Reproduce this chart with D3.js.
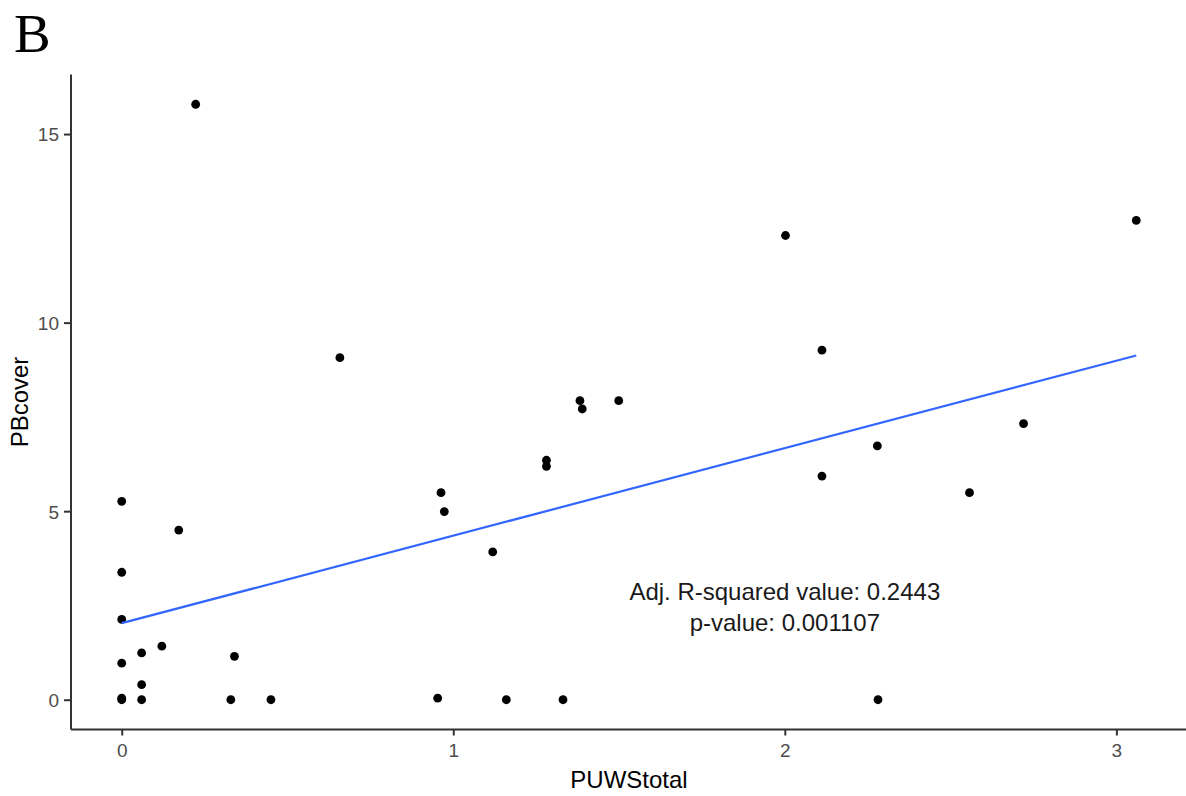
<!DOCTYPE html>
<html>

<head>
    <title>PBcover vs PUWStotal</title>
    <script src="https://d3js.org/d3.v7.min.js"></script>
    <style>
        body {
            margin: 0;
            background: white;
        }

        .tickLabel {
            font-family: Arial, "Liberation Sans", sans-serif;
            font-size: 19px;
            fill: #4d4d4d;
        }

        .axisTitle {
            font-family: Arial, "Liberation Sans", sans-serif;
            font-size: 24px;
            fill: #000;
        }

        .note {
            font-family: Arial, "Liberation Sans", sans-serif;
            font-size: 24px;
            fill: #1a1a1a;
        }
    </style>
</head>

<body>
    <div id="chart"></div>

    <script>
        const width = 1186, height = 796

        // values
        const puwsTotal = [0.223, 3.06, 2.002, 0.658, 2.112, 1.382, 1.389, 1.499, 1.281, 1.281,
            0.963, 0.973, 1.119, 0.953, 1.16, 1.331, 2.279, 2.72, 2.112, 2.557,
            2.281, 0, 0.172, 0, 0, 0.06, 0.121, 0, 0.34, 0.06,
            0, 0, 0.06, 0.329, 0.45]
        const pbCover = [15.79, 12.71, 12.31, 9.07, 9.27, 7.93, 7.71, 7.93, 6.35, 6.19,
            5.49, 4.99, 3.92, 0.04, 0, 0, 6.73, 7.32, 5.93, 5.49,
            0, 5.26, 4.5, 3.38, 2.13, 1.24, 1.42, 0.97, 1.15, 0.4,
            0.04, 0, 0, 0, 0]
        // lm fit as drawn in the picture: [intercept, slope]
        const fitCoef = [2.03, 2.32]
        const xTicks = [0, 1, 2, 3]
        const yTicks = [0, 5, 10, 15]
        const noteLines = ["Adj. R-squared value: 0.2443", "p-value: 0.001107"]
        const notePos = [2.0, 2.65] // x, y in data units of the first line's centre

        const points = puwsTotal.map((x, i) => ({ x: x, y: pbCover[i] }))

        const panelLeft = 71, panelRight = 1187, panelTop = 74.5, panelBottom = 729.5

        // ggplot-like 5% expansion
        const xExt = d3.extent(puwsTotal), yExt = d3.extent(pbCover)
        const xPad = (xExt[1] - xExt[0]) * 0.05, yPad = (yExt[1] - yExt[0]) * 0.05
        const x = d3.scaleLinear().domain([xExt[0] - xPad, xExt[1] + xPad]).range([panelLeft, panelRight])
        const y = d3.scaleLinear().domain([yExt[0] - yPad, yExt[1] + yPad]).range([panelBottom, panelTop])

        const svg = d3.select("#chart")
            .append("svg")
            .attr("width", width)
            .attr("height", height)

        // panel label
        svg.append("text")
            .attr("x", 14)
            .attr("y", 52)
            .attr("font-family", "'Liberation Serif', 'Times New Roman', serif")
            .attr("font-size", 55)
            .text("B")

        // fitted line over the data range
        const fitLine = xExt.map(v => ({ x: v, y: fitCoef[0] + fitCoef[1] * v }))

        // axes
        const xAxis = svg.append("g")
            .attr("transform", `translate(0,${panelBottom})`)
            .call(d3.axisBottom(x).tickValues(xTicks).tickFormat(d3.format("d")).tickSize(6).tickPadding(4))
        const yAxis = svg.append("g")
            .attr("transform", `translate(${panelLeft},0)`)
            .call(d3.axisLeft(y).tickValues(yTicks).tickFormat(d3.format("d")).tickSize(7).tickPadding(5))

        ;[xAxis, yAxis].forEach(a => {
            a.attr("font-size", null).attr("font-family", null)
            a.select(".domain").attr("stroke", "#333").attr("stroke-width", 2)
            a.selectAll(".tick line").attr("stroke", "#333").attr("stroke-width", 2)
            a.selectAll(".tick text").attr("class", "tickLabel").attr("fill", null)
        })
        xAxis.select(".domain").attr("d", `M${panelLeft},0H${panelRight}`)
        yAxis.select(".domain").attr("d", `M0,${panelTop}V${panelBottom}`)
        xAxis.selectAll(".tick text").attr("dy", "0.9em")
        yAxis.selectAll(".tick text").attr("dy", "0.36em")

        // points
        svg.append("g")
            .selectAll("circle")
            .data(points)
            .join("circle")
            .attr("cx", d => x(d.x))
            .attr("cy", d => y(d.y))
            .attr("r", 4.4)
            .attr("fill", "black")

        svg.append("path")
            .datum(fitLine)
            .attr("fill", "none")
            .attr("stroke", "#3366ff")
            .attr("stroke-width", 2.2)
            .attr("d", d3.line().x(d => x(d.x)).y(d => y(d.y)))

        // annotation
        svg.append("g")
            .selectAll("text")
            .data(noteLines)
            .join("text")
            .attr("class", "note")
            .attr("x", x(notePos[0]))
            .attr("y", (d, i) => y(notePos[1]) + i * 31)
            .attr("text-anchor", "middle")
            .text(d => d)

        // axis titles
        svg.append("text")
            .attr("class", "axisTitle")
            .attr("x", (panelLeft + panelRight) / 2)
            .attr("y", 788)
            .attr("text-anchor", "middle")
            .text("PUWStotal")

        svg.append("text")
            .attr("class", "axisTitle")
            .attr("transform", `translate(28,${(panelTop + panelBottom) / 2}) rotate(-90)`)
            .attr("text-anchor", "middle")
            .text("PBcover")
    </script>

</body>

</html>
